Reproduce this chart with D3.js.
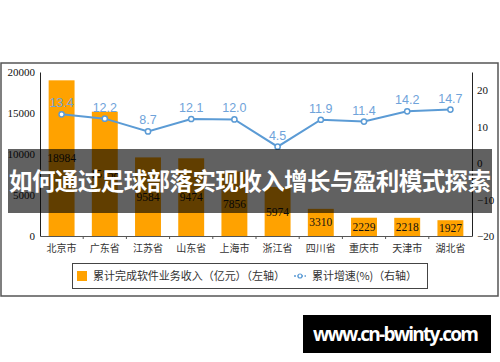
<!DOCTYPE html>
<html><head><meta charset="utf-8">
<script src="https://cdn.jsdelivr.net/npm/d3@7"></script>
<style>body{margin:0;background:#fff}svg{display:block}</style>
</head><body>
<svg id="c" width="500" height="362"></svg>
<script>
const categories = ["北京市","广东省","江苏省","山东省","上海市","浙江省","四川省","重庆市","天津市","湖北省"];
const revenue = [18984,15158,9584,9474,7856,5974,3310,2229,2218,1927];
const growth = [13.4,12.2,8.7,12.1,12.0,4.5,11.9,11.4,14.2,14.7];
const leftTicks = [0,5000,10000,15000,20000];
const rightTicks = [-20,-10,0,10,20];
const legendLabels = ["累计完成软件业务收入（亿元）（左轴）","累计增速(%)（右轴）"];
const bannerText = "如何通过足球部落实现收入增长与盈利模式探索";
const watermark = "www.cn-bwinty.com";

const svg = d3.select("#c");
const L = 40, R = 472, T = 72, B = 236;
const x = d3.scaleBand().domain(categories).range([L,R]).paddingInner(0.4).paddingOuter(0.2);
const xb = d3.scaleBand().domain(categories).range([L,R]);
const yL = d3.scaleLinear().domain([0,20000]).range([B,T]);
const yR = d3.scaleLinear().domain([-20,25]).range([B,T]);

// outer frame
svg.append("rect").attr("x",1).attr("y",63).attr("width",497).attr("height",233)
  .attr("fill","#fff").attr("stroke","#555").attr("stroke-width",1.5);

// bars
svg.append("g").selectAll("rect").data(revenue).join("rect")
  .attr("x",(d,i)=>x(categories[i])).attr("width",x.bandwidth())
  .attr("y",d=>yL(d)).attr("height",d=>B-yL(d)).attr("fill","#FFA200");

// bar labels
svg.append("g").selectAll("text").data(revenue).join("text")
  .attr("x",(d,i)=>x(categories[i])+x.bandwidth()/2)
  .attr("y",d=>(yL(d)+B)/2).attr("dy","0.35em").attr("text-anchor","middle")
  .attr("font-family","Liberation Serif").attr("font-size",11.5).attr("fill","#111")
  .text(d=>d);

// left axis
const axL = svg.append("g").attr("transform",`translate(${L},0)`)
  .call(d3.axisLeft(yL).tickValues(leftTicks).tickSize(0).tickPadding(5).tickFormat(d3.format("d")));
axL.select(".domain").attr("stroke","#222");
axL.selectAll("text").attr("font-family","Liberation Serif").attr("font-size",11).attr("fill","#111");

// right axis
const axR = svg.append("g").attr("transform",`translate(${R},0)`)
  .call(d3.axisRight(yR).tickValues(rightTicks).tickSize(0).tickPadding(5).tickFormat(d3.format("d")));
axR.select(".domain").attr("stroke","#222");
axR.selectAll("text").attr("font-family","Liberation Serif").attr("font-size",11).attr("fill","#111");

// x axis
const axX = svg.append("g").attr("transform",`translate(0,${B})`)
  .call(d3.axisBottom(xb).tickSize(0).tickPadding(9));
axX.select(".domain").attr("stroke","#555");
axX.selectAll("text").attr("font-family","Noto Sans CJK SC").attr("font-size",10).attr("fill","#333");
svg.append("g").selectAll("line").data(categories.slice(1)).join("line")
  .attr("x1",d=>xb(d)).attr("x2",d=>xb(d)).attr("y1",B).attr("y2",B+3).attr("stroke","#555");

// growth line
const cx = (d,i)=>xb(categories[i])+xb.bandwidth()/2;
svg.append("path").datum(growth)
  .attr("d",d3.line().x(cx).y(d=>yR(d)))
  .attr("fill","none").attr("stroke","#5B9BD5").attr("stroke-width",2);
svg.append("g").selectAll("circle").data(growth).join("circle")
  .attr("cx",cx).attr("cy",d=>yR(d)).attr("r",2.6)
  .attr("fill","#fff").attr("stroke","#5B9BD5").attr("stroke-width",1.5);
svg.append("g").selectAll("text").data(growth).join("text")
  .attr("x",cx).attr("y",d=>yR(d)-7).attr("text-anchor","middle")
  .attr("font-family","Liberation Sans").attr("font-size",12.5).attr("fill","#6FA3DA")
  .text(d=>d3.format(".1f")(d));

// legend
const lg = svg.append("g");
lg.append("rect").attr("x",72.5).attr("y",263.5).attr("width",355).attr("height",25)
  .attr("fill","#fff").attr("stroke","#444").attr("stroke-width",1);
lg.append("rect").attr("x",77).attr("y",271).attr("width",10).attr("height",10).attr("fill","#FFA200");
lg.append("text").attr("x",93).attr("y",276).attr("dy","0.35em")
  .attr("font-family","Noto Sans CJK SC").attr("font-size",11).attr("fill","#333")
  .attr("textLength",192).text(legendLabels[0]);
lg.append("line").attr("x1",294).attr("x2",306).attr("y1",276).attr("y2",276)
  .attr("stroke","#5B9BD5").attr("stroke-width",1.5).attr("stroke-dasharray","2,1.5");
lg.append("circle").attr("cx",300).attr("cy",276).attr("r",2).attr("fill","#fff").attr("stroke","#5B9BD5").attr("stroke-width",1.2);
lg.append("text").attr("x",312).attr("y",276).attr("dy","0.35em")
  .attr("font-family","Noto Sans CJK SC").attr("font-size",11).attr("fill","#333")
  .attr("textLength",105).text(legendLabels[1]);

// banner overlay
svg.append("rect").attr("x",8).attr("y",149).attr("width",484).attr("height",64).attr("fill","rgba(0,0,0,0.62)");
svg.append("text").attr("x",250).attr("y",182).attr("dy","0.35em").attr("text-anchor","middle")
  .attr("font-family","Noto Sans CJK SC").attr("font-weight","bold").attr("font-size",23.5)
  .attr("fill","#fff").attr("textLength",482).text(bannerText);

// watermark
svg.append("rect").attr("x",303).attr("y",315).attr("width",188).attr("height",38).attr("fill","#000");
svg.append("text").attr("x",313).attr("y",334).attr("dy","0.35em")
  .attr("font-family","Open Sans").attr("font-weight","bold").attr("font-size",19)
  .attr("fill","#fff").attr("textLength",166).text(watermark);
</script>
</body></html>
